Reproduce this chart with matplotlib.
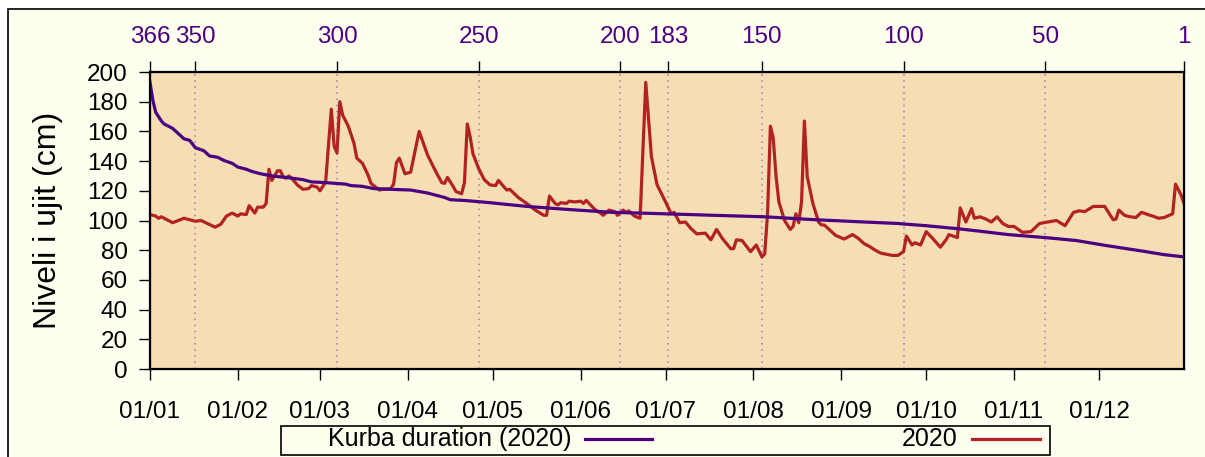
# -*- coding: utf-8 -*-
# water level 2020 vs duration curve
import numpy as np
import matplotlib
matplotlib.use('Agg')
import matplotlib.pyplot as plt
from matplotlib.patches import Rectangle
from matplotlib.lines import Line2D

plt.rcParams['font.family'] = ['Liberation Sans', 'DejaVu Sans']

# daily level 2020 (day of year, cm)
days_2020 = [1, 3, 4, 5, 9, 13, 17, 19, 24, 26, 28, 30, 32, 33, 35, 36, 37, 38, 39, 41,
             42, 43, 44, 46, 47, 48, 49, 50, 51, 53, 55, 57, 58, 60, 61, 62, 63, 65, 66, 67,
             68, 69, 71, 73, 74, 76, 78, 79, 82, 83, 86, 87, 88, 89, 91, 93, 96, 99, 102, 104,
             105, 106, 108, 109, 111, 112, 113, 114, 115, 117, 119, 121, 123, 124, 126, 127, 128, 131, 134, 137,
             140, 141, 142, 144, 145, 146, 148, 149, 151, 153, 154, 155, 158, 160, 161, 163, 165, 166, 168, 169,
             170, 172, 174, 176, 178, 180, 183, 185, 186, 188, 190, 192, 194, 197, 199, 201, 203, 206, 207, 208,
             210, 213, 215, 217, 218, 219, 220, 221, 222, 223, 225, 227, 228, 229, 230, 231, 232, 233, 235, 237,
             238, 239, 243, 246, 249, 251, 253, 255, 257, 259, 263, 265, 267, 268, 270, 271, 273, 275, 277, 280,
             282, 283, 286, 287, 289, 291, 292, 294, 296, 298, 300, 302, 304, 306, 309, 312, 315, 318, 321, 324,
             327, 329, 331, 334, 338, 340, 341, 342, 343, 345, 347, 349, 351, 354, 355, 357, 359, 362, 363, 365,
             366]
level_2020 = [104, 103, 101.5, 102.5, 98.5, 101.5, 99.5, 100, 95.5, 97.5, 103, 105, 103, 104.5, 104, 110, 107.5, 105, 109, 109,
              111.5, 134.5, 127, 133.5, 133.5, 129.5, 128.5, 130, 128.5, 124, 121, 121.5, 123.5, 122.5, 120, 123, 126, 175, 150, 145.5,
              180, 171, 163.5, 152, 142, 138.5, 130.5, 125, 120.5, 121, 121.5, 124.5, 139, 142, 131.5, 132.5, 160, 144, 132.5, 125.5,
              125, 129, 123, 119.5, 118, 125.5, 165, 156.5, 145, 135, 127.5, 124, 123.5, 127, 122.5, 120.5, 121, 115.5, 111.5, 107,
              103.5, 103.5, 116.5, 111.5, 110.5, 112, 111.5, 113, 112.5, 113, 111.5, 113.5, 107.5, 105, 103.5, 107, 106, 103.5, 107, 105.5,
              106.5, 103, 101.5, 193, 143, 124, 112.5, 104.5, 105.5, 98.5, 99, 94.5, 91, 91.5, 87, 94, 88, 81, 81, 87,
              86.5, 79, 83.5, 75.5, 77.5, 105, 163.5, 155.5, 129.5, 112.5, 100, 94, 96, 104.5, 98.5, 112.5, 167, 129.5, 111.5, 99,
              97, 97, 90, 87.5, 90.5, 88, 84.5, 82.5, 80, 78, 76.5, 76.5, 79, 89.5, 83.5, 85, 83.5, 92.5, 88.5, 82,
              87, 90.5, 88.5, 108.5, 99, 108, 101.5, 102.5, 101, 99, 102.5, 98, 96, 96, 92, 92.5, 98, 99, 100, 96.5,
              105.5, 106.5, 106, 109.5, 109.5, 103.5, 100.5, 101, 107, 103.5, 102.5, 102, 105.5, 103.5, 103, 101.5, 102, 104.5, 124.5, 117,
              111.5]

# duration curve (position, cm)
days_dur = [1, 2, 3, 5, 6, 9, 11, 13, 15, 17, 20, 22, 25, 27, 30, 32, 35, 37, 40, 44,
            49, 55, 58, 63, 70, 72, 76, 80, 86, 93, 96, 99, 103, 105, 107, 112, 121, 126, 134, 141,
            148, 156, 164, 174, 183, 200, 218, 236, 253, 265, 268, 275, 286, 293, 304, 317, 328, 339, 351, 359,
            366]
level_dur = [193, 181, 173, 167, 165, 162, 158.5, 155, 154, 149, 147, 143.5, 142.5, 140.5, 138.5, 136, 134.5, 133, 131.5, 130,
             129, 127.5, 126, 125.5, 124.5, 123.5, 123, 121.5, 121, 120.5, 119.5, 118.5, 116.5, 115.5, 114, 113.5, 112, 111, 109.5, 108.5,
             107.5, 106.5, 105.5, 105, 104.5, 103.5, 102.5, 100.5, 99, 98, 97.5, 96.5, 94.5, 93, 90.5, 88.5, 86.5, 83, 79.5, 77,
             75.5]

month_days = [1, 32, 61, 92, 122, 153, 183, 214, 245, 275, 306, 336]
month_labels = ['01/01', '01/02', '01/03', '01/04', '01/05', '01/06',
                '01/07', '01/08', '01/09', '01/10', '01/11', '01/12']
rank_labels = [366, 350, 300, 250, 200, 183, 150, 100, 50, 1]

purple = '#4B0082'
red = '#B22222'

fig = plt.figure(figsize=(12.05, 4.57), dpi=100)
fig.patch.set_facecolor('white')
fig.add_artist(Rectangle((8/1205, -0.05), 1.0, 1 - 9/457 + 0.05, transform=fig.transFigure,
                         facecolor='#FFFFF0', edgecolor='black', lw=1.2, zorder=-1))

ax = fig.add_axes([150/1205, 1 - 369/457, 1034/1205, 297/457])
ax.set_facecolor('#F5DEB3')

rank_days = [367 - r for r in rank_labels]
for d in rank_days[1:-1]:
    ax.axvline(d, color='#9a80b8', lw=1.1, ls=(0, (1, 3)), zorder=1)

ax.plot(days_dur, level_dur, color=purple, lw=2.3, zorder=3)
ax.plot(days_2020, level_2020, color=red, lw=2.3, zorder=2)

ax.set_xlim(1, 366)
ax.set_ylim(0, 200)
ax.set_yticks(np.arange(0, 201, 20))
ax.set_xticks(month_days)
ax.set_xticklabels(month_labels)
ax.tick_params(axis='x', direction='out', length=8, width=1, pad=15, labelsize=17.5)
ax.tick_params(axis='y', direction='out', length=8, width=1, pad=8, labelsize=17.5)
for s in ax.spines.values():
    s.set_linewidth(1.6)
    s.set_color('black')

top = ax.twiny()
top.set_xlim(ax.get_xlim())
top.set_xticks(rank_days)
top.set_xticklabels([str(r) for r in rank_labels])
top.tick_params(axis='x', direction='out', length=8, width=1, pad=9, labelsize=17.5, labelcolor=purple)

ax.set_ylabel('Niveli i ujit (cm)', fontsize=23)
ax.yaxis.set_label_coords(-0.084, 0.5)

# legend box
fig.add_artist(Rectangle((281/1205, 1 - 455/457), 769/1205, 29/457, transform=fig.transFigure,
                         facecolor='#FFFFF0', edgecolor='black', lw=1.2))
ly = 1 - 439/457
fig.text(572/1205, ly, 'Kurba duration (2020)', ha='right', va='center', fontsize=18)
fig.add_artist(Line2D([585/1205, 652/1205], [ly, ly], color=purple, lw=2.3, transform=fig.transFigure))
fig.text(958/1205, ly, '2020', ha='right', va='center', fontsize=18)
fig.add_artist(Line2D([972/1205, 1040/1205], [ly, ly], color=red, lw=2.3, transform=fig.transFigure))

plt.savefig('out.png', dpi=100, facecolor=fig.get_facecolor())
